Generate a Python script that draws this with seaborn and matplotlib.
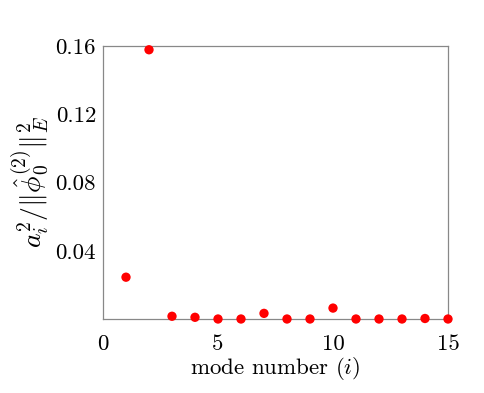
import numpy as np
import pandas as pd
import matplotlib
matplotlib.use("Agg")
import matplotlib.pyplot as plt
import seaborn as sns

# values
mode_number = [1, 2, 3, 4, 5, 6, 7, 8, 9, 10, 11, 12, 13, 14, 15]
energy_fraction = [0.0245, 0.1578, 0.0016, 0.0010, 0.0000, 0.0000, 0.0033, 0.0000,
                   0.0000, 0.0064, 0.0000, 0.0000, 0.0000, 0.0003, 0.0000]
x_ticks = [0, 5, 10, 15]
y_ticks = [0.04, 0.08, 0.12, 0.16]

sns.set_style("white")
plt.rcParams['font.family'] = 'serif'
plt.rcParams['font.serif'] = ['cmr10', 'DejaVu Serif']
plt.rcParams['mathtext.fontset'] = 'cm'
plt.rcParams['axes.unicode_minus'] = False
plt.rcParams['axes.formatter.use_mathtext'] = True
plt.rcParams['text.color'] = 'black'
plt.rcParams['axes.labelcolor'] = 'black'
plt.rcParams['xtick.labelcolor'] = 'black'
plt.rcParams['ytick.labelcolor'] = 'black'

df = pd.DataFrame({'mode': mode_number, 'frac': energy_fraction})

fig = plt.figure(figsize=(4.85, 3.93), dpi=100)
ax = fig.add_axes([103 / 485, 1 - 319 / 393, 345 / 485, 273 / 393])

sns.scatterplot(data=df, x='mode', y='frac', ax=ax, color='red', s=45,
                edgecolor='none', clip_on=False, zorder=3)

ax.set_xlim(0, 15)
ax.set_ylim(0, 0.16)
ax.set_xticks(x_ticks)
ax.set_xticklabels([str(t) for t in x_ticks])
ax.set_yticks(y_ticks)
ax.set_yticklabels([f'{t:.2f}' for t in y_ticks])
ax.tick_params(direction='in', length=3, width=0.6, color='#888888',
               labelsize=16.5, top=False, right=False)
ax.tick_params(axis='x', pad=11)
ax.tick_params(axis='y', pad=5)
for sp in ax.spines.values():
    sp.set_color('#888888')
    sp.set_linewidth(0.9)

ax.set_xlabel(r'mode number $(i)$', fontsize=16.5, labelpad=1)
ax.set_ylabel(r'$a_i^2/\|\hat{\phi}_0^{(2)}\|_E^2$', fontsize=20, labelpad=3)

fig.savefig('out.png', dpi=100)
